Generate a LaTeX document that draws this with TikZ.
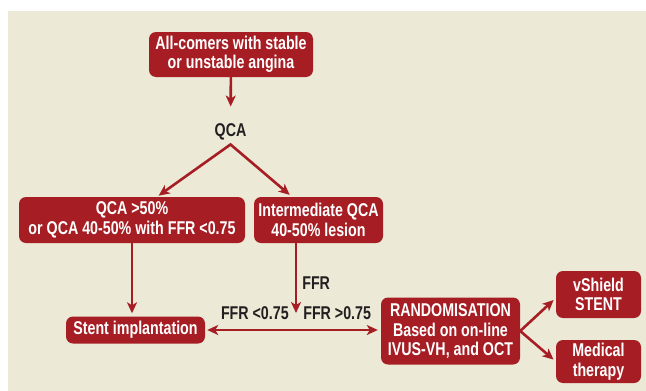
\documentclass[tikz,border=0pt]{standalone}
\usepackage{fontspec}
\setmainfont{Liberation Sans}[FakeStretch=0.77]
\usepackage{xcolor}
\usetikzlibrary{
    arrows.meta,
    positioning,
    backgrounds
}
\definecolor{boxred}{RGB}{166,30,36}
\definecolor{panelbg}{RGB}{236,233,215}
\definecolor{labeltext}{RGB}{35,31,32}

\begin{document}
\begin{tikzpicture}[
    x=1pt, y=-1pt,
    font=\fontsize{18.5}{19.5}\selectfont\bfseries,
    box/.style={
        rectangle,
        rounded corners=7pt,
        fill=boxred,
        text=white,
        align=center,
        inner sep=2pt
    },
    arrow/.style={
        -{Stealth[length=11pt,width=10pt,inset=3pt]},
        line width=2.6pt,
        draw=boxred
    },
    arrowboth/.style={
        {Stealth[length=11pt,width=10pt,inset=3pt]}-{Stealth[length=11pt,width=10pt,inset=3pt]},
        line width=2.6pt,
        draw=boxred
    },
    note/.style={
        text=labeltext,
        inner sep=0pt
    }
]
\useasboundingbox (0,0) rectangle (646,391);

% =========================================================
% Top: patient selection and QCA
% =========================================================
\node[box, minimum width=164pt, minimum height=45pt] (allcomers) at (231,54.5)
{All-comers with stable\\or unstable angina};

\node[note, inner sep=4pt] (qca) at (230.5,132) {QCA};

% =========================================================
% Middle: QCA result
% =========================================================
\node[box, minimum width=226pt, minimum height=46pt] (qcahigh) at (132,220)
{QCA >50\%\\or QCA 40-50\% with FFR <0.75};

\node[box, minimum width=129pt, minimum height=46pt] (interm) at (318.5,220)
{Intermediate QCA\\40-50\% lesion};

% =========================================================
% Bottom: treatment
% =========================================================
\node[box, minimum width=139pt, minimum height=27pt] (stent) at (135.5,330)
{Stent implantation};

\node[box, minimum width=139pt, minimum height=67pt] (random) at (450.5,331)
{RANDOMISATION\\Based on on-line\\IVUS-VH, and OCT};

\node[box, minimum width=85pt, minimum height=47pt] (vshield) at (598.5,294.5)
{vShield\\STENT};

\node[box, minimum width=85pt, minimum height=43pt] (medical) at (598.5,361.5)
{Medical\\therapy};

\coordinate (ffrend) at (296,313);

% =========================================================
% Background panel
% =========================================================
\begin{scope}[on background layer]
\fill[white] (0,0) rectangle (646,391);
\fill[panelbg] (8,11) rectangle (646,391);
\end{scope}

% =========================================================
% Arrows
% =========================================================
\draw[arrow, shorten >=13pt] (allcomers) -- (qca);

\draw[arrowboth, shorten <=2pt, shorten >=3pt] ([xshift=25pt]qcahigh.north) -- (qca.south) -- ([xshift=-26.5pt]interm.north);

\draw[arrow, shorten >=3pt] (qcahigh.south) -- (qcahigh.south |- stent.north);

\draw[arrow] ([xshift=-22.5pt]interm.south) -- node[note, pos=0.57, right=5pt] (ffrlabel) {FFR} (ffrend);

\draw[arrowboth, shorten <=2pt, shorten >=3pt] (stent.east) -- (random.west |- stent.east)
    node[note, pos=0.5, anchor=base east, xshift=-3pt, yshift=11pt] (ffrlow) {FFR <0.75}
    node[note, pos=0.5, anchor=base west, xshift=9pt, yshift=11pt] (ffrhigh) {FFR >0.75};

\draw[arrowboth, shorten <=3pt, shorten >=3pt] ([yshift=-3.5pt]vshield.west) -- (random.east) -- (medical.west);

\end{tikzpicture}
\end{document}
